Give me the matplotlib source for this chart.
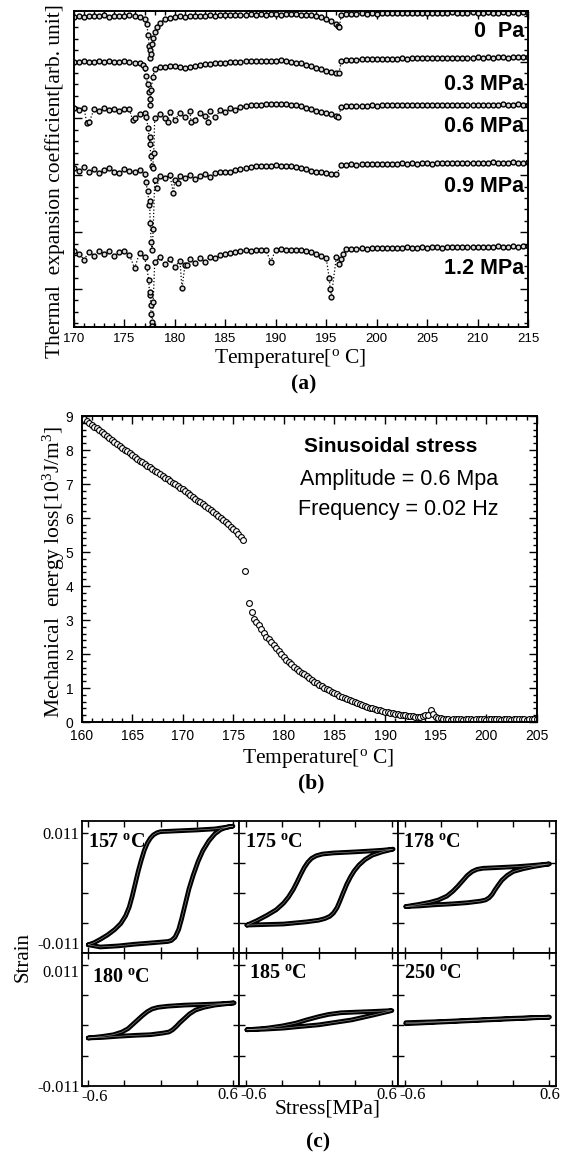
import numpy as np
import matplotlib
matplotlib.use("Agg")
import matplotlib.pyplot as plt
from matplotlib.ticker import MultipleLocator, FixedLocator, NullFormatter

plt.rcParams['mathtext.fontset'] = 'custom'
plt.rcParams['mathtext.rm'] = 'Liberation Serif'
plt.rcParams['mathtext.it'] = 'Liberation Serif:italic'
plt.rcParams['mathtext.bf'] = 'Liberation Serif:bold'
plt.rcParams['axes.unicode_minus'] = False

SERIF = 'Liberation Serif'
SANS = 'Liberation Sans'

# ---------------- (a) thermal expansion coefficient (arb. unit, curves offset) ----------------
temp_a = [170.0, 170.5, 171.0, 171.5, 172.0, 172.5, 173.0, 173.5, 174.0, 174.5,
          175.0, 175.5, 176.0, 176.5, 177.0, 177.5, 178.0, 178.5, 179.0, 179.5,
          180.0, 180.5, 181.0, 181.5, 182.0, 182.5, 183.0, 183.5, 184.0, 184.5,
          185.0, 185.5, 186.0, 186.5, 187.0, 187.5, 188.0, 188.5, 189.0, 189.5,
          190.0, 190.5, 191.0, 191.5, 192.0, 192.5, 193.0, 193.5, 194.0, 194.5,
          195.0, 195.5, 196.0, 196.5, 197.0, 197.5, 198.0, 198.5, 199.0, 199.5,
          200.0, 200.5, 201.0, 201.5, 202.0, 202.5, 203.0, 203.5, 204.0, 204.5,
          205.0, 205.5, 206.0, 206.5, 207.0, 207.5, 208.0, 208.5, 209.0, 209.5,
          210.0, 210.5, 211.0, 211.5, 212.0, 212.5, 213.0, 213.5, 214.0, 214.5,
          215.0]
stress_labels = ['0  Pa', '0.3 MPa', '0.6 MPa', '0.9 MPa', '1.2 MPa']

alpha_0 = [98.2, 98.4, 98.1, 98.5, 98.3, 98.4, 98.6, 98.2, 98.5, 98.4, 98.3, 98.6, 98.4, 98.2,
           97.6, 87.6, 93.3, 96.2, 97.4, 97.9,
           98.1, 98.3, 98.2, 98.4, 98.3, 98.5, 98.4, 98.6, 98.5, 98.6, 98.7, 98.6, 98.8, 98.7,
           98.8, 98.9, 98.7, 98.9, 98.8, 98.9, 99.0, 98.8, 98.9, 99.0, 98.9, 98.7, 98.8, 98.6, 98.4,
           98.0, 97.4, 96.8, 95.9, 98.8,
           99.1, 99.2, 99.1, 99.3, 99.2, 99.3, 99.2, 99.4, 99.3, 99.3, 99.4, 99.3, 99.4, 99.5,
           99.4, 99.4, 99.5, 99.4, 99.5, 99.5, 99.4, 99.6, 99.5, 99.5, 99.4, 99.6, 99.5, 99.5,
           99.6, 99.5, 99.5, 99.6, 99.5, 99.6, 99.5, 99.6, 99.5]
alpha_03 = [84.0, 83.8, 84.1, 83.9, 84.0, 84.2, 83.9, 84.1, 84.0, 83.8, 84.1, 84.0, 83.7, 83.5,
            82.0, 72.0, 81.5, 82.3,
            82.4, 82.6, 82.5, 82.2, 82.0, 82.4, 82.7, 82.9, 83.1, 83.2, 83.4, 83.5, 83.7, 83.8,
            83.9, 84.0, 84.1, 84.2, 84.2, 84.3, 84.3, 84.2, 84.3, 84.4, 84.2, 84.0, 83.7, 83.4,
            83.0, 82.5, 82.0,
            81.5, 81.0, 80.8, 80.5, 84.2,
            84.5, 84.6, 84.6, 84.7, 84.7, 84.8, 84.7, 84.8, 84.9, 84.8, 84.9, 85.0, 84.9, 85.0,
            85.0, 85.1, 85.0, 85.1, 85.1, 85.0, 85.2, 85.1, 85.2, 85.1, 85.2, 85.2, 85.3, 85.2,
            85.3, 85.2, 85.3, 85.3, 85.2, 85.3, 85.3, 85.4, 85.3]
alpha_06 = [69.2, 68.6, 69.3, 64.8, 69.0, 68.4, 69.2, 68.8, 69.1, 68.5, 69.0, 68.9, 66.0, 67.5,
            67.8, 60.0, 66.0, 67.5,
            66.2, 68.0, 65.5, 67.8, 66.4, 68.2, 65.4, 67.6, 66.8, 68.5, 66.3, 68.6, 68.0, 69.2,
            68.8, 69.6, 69.9, 70.2, 70.4, 70.3, 70.6, 70.5, 70.7, 70.6, 70.5, 70.4, 70.2, 69.8,
            69.4, 69.0, 68.5,
            68.0, 67.6, 67.3, 66.8, 69.6,
            69.8, 69.9, 69.9, 70.0, 70.0, 70.1, 70.0, 70.1, 70.1, 70.2, 70.1, 70.2, 70.2, 70.1,
            70.2, 70.3, 70.2, 70.3, 70.2, 70.3, 70.3, 70.4, 70.3, 70.3, 70.4, 70.3, 70.4, 70.4,
            70.3, 70.4, 70.4, 70.5, 70.4, 70.4, 70.5, 70.4, 70.4]
alpha_09 = [50.2, 49.4, 50.5, 49.0, 50.1, 48.8, 49.8, 50.4, 49.2, 48.6, 50.0, 49.5, 48.9, 49.6,
            48.5, 40.0, 46.5, 47.8,
            47.0, 48.2, 46.6, 47.9, 47.2, 48.0, 46.8, 47.9, 48.3, 47.5, 48.6, 48.9, 49.2, 49.0,
            49.6, 50.0, 50.4, 50.6, 50.9, 51.0, 51.1, 51.0, 51.2, 51.1, 51.0, 50.8, 50.6, 50.3,
            49.9, 49.5, 49.2,
            48.9, 48.6, 48.4, 48.3, 51.2,
            51.4, 51.5, 51.4, 51.6, 51.5, 51.6, 51.7, 51.5, 51.6, 51.7, 51.6, 51.8, 51.7, 51.8,
            51.6, 51.8, 51.9, 51.7, 51.8, 51.9, 51.8, 51.9, 52.0, 51.8, 51.9, 52.0, 51.9, 52.0,
            51.9, 52.1, 52.0, 51.9, 52.0, 52.1, 52.0, 52.0, 52.1]
alpha_12 = [24.0, 23.2, 21.3, 23.8, 22.6, 24.1, 23.0, 23.9, 22.5, 23.7, 24.0, 22.8, 18.6, 23.4,
            22.0, 10.0, 20.5, 22.0,
            19.8, 21.5, 18.9, 21.0, 19.6, 21.6, 20.2, 21.8, 20.6, 22.3, 21.9, 22.8, 23.0, 23.5,
            23.8, 24.1, 24.3, 24.2, 24.4, 24.5, 24.4, 20.7, 24.5, 24.6, 24.5, 24.4, 24.5, 24.3,
            24.0, 23.6, 23.0,
            22.5, 21.8, 9.6, 22.0, 21.5,
            24.6, 24.8, 24.7, 24.9, 24.8, 25.0, 24.9, 25.0, 24.9, 25.1, 25.0, 25.1, 25.2, 25.0,
            25.1, 25.2, 25.1, 25.3, 25.2, 25.1, 25.3, 25.2, 25.3, 25.4, 25.2, 25.3, 25.4, 25.3,
            25.4, 25.3, 25.5, 25.4, 25.3, 25.5, 25.4, 25.5, 25.5]

# extra readings around the transition dips (temperature, value)
dip_0 = [(177.2, 96.0), (177.35, 92.5), (177.45, 89.0), (177.55, 85.0), (177.65, 86.5),
         (177.75, 89.5), (177.85, 91.5), (178.2, 95.0), (196.2, 95.2), (196.3, 95.0)]
dip_03 = [(176.8, 83.0), (177.1, 79.5), (177.3, 77.0), (177.45, 74.5), (177.55, 70.2),
          (177.65, 75.0), (177.8, 79.0), (196.25, 80.3)]
dip_06 = [(171.25, 64.7), (175.8, 65.5), (177.15, 66.5), (177.35, 63.0), (177.5, 58.0),
          (177.6, 54.0), (177.7, 51.0), (177.8, 50.4), (177.9, 55.0), (179.3, 64.8),
          (181.6, 65.0), (183.3, 64.9), (196.2, 66.5)]
dip_09 = [(177.1, 46.0), (177.3, 43.0), (177.45, 38.5), (177.55, 33.0), (177.65, 27.0),
          (177.75, 24.4), (177.85, 31.0), (178.2, 44.0), (179.85, 42.4), (180.3, 45.5)]
dip_12 = [(177.2, 19.0), (177.4, 15.0), (177.55, 11.0), (177.6, 7.0), (177.65, 4.0),
          (177.7, 1.5), (177.75, 0.3), (177.85, 8.0), (180.7, 12.2), (181.2, 19.5),
          (195.3, 15.4), (195.4, 12.0), (196.3, 20.0), (196.7, 23.0)]

curves_a = [alpha_0, alpha_03, alpha_06, alpha_09, alpha_12]
dips_a = [dip_0, dip_03, dip_06, dip_09, dip_12]

# ---------------- (b) mechanical energy loss [10^3 J/m^3] ----------------
loss_pts = [
    (160.00, 8.95), (160.25, 8.90), (160.50, 8.85), (160.75, 8.80), (161.00, 8.75),
    (161.25, 8.69), (161.50, 8.64), (161.75, 8.58), (162.00, 8.52), (162.25, 8.46),
    (162.50, 8.40), (162.75, 8.34), (163.00, 8.28), (163.25, 8.23), (163.50, 8.17),
    (163.75, 8.12), (164.00, 8.06), (164.25, 8.01), (164.50, 7.96), (164.75, 7.90),
    (165.00, 7.85), (165.25, 7.80), (165.50, 7.74), (165.75, 7.69), (166.00, 7.64),
    (166.25, 7.59), (166.50, 7.54), (166.75, 7.49), (167.00, 7.44), (167.25, 7.39),
    (167.50, 7.34), (167.75, 7.29), (168.00, 7.24), (168.25, 7.19), (168.50, 7.14),
    (168.75, 7.09), (169.00, 7.04), (169.25, 6.99), (169.50, 6.94), (169.75, 6.89),
    (170.00, 6.84), (170.25, 6.78), (170.50, 6.73), (170.75, 6.67), (171.00, 6.62),
    (171.25, 6.57), (171.50, 6.51), (171.75, 6.46), (172.00, 6.41), (172.25, 6.35),
    (172.50, 6.29), (172.75, 6.24), (173.00, 6.18), (173.25, 6.12), (173.50, 6.07),
    (173.75, 6.01), (174.00, 5.95), (174.25, 5.89), (174.50, 5.82), (174.75, 5.75),
    (175.00, 5.68), (175.25, 5.61), (175.50, 5.53), (175.75, 5.45), (176.00, 5.35),
    (176.20, 4.45), (176.60, 3.50), (176.80, 3.24), (177.05, 3.02),
    (177.25, 2.94), (177.50, 2.84), (177.75, 2.73), (178.00, 2.62), (178.25, 2.51),
    (178.50, 2.43), (178.75, 2.35), (179.00, 2.26), (179.25, 2.17), (179.50, 2.08),
    (179.75, 1.99), (180.00, 1.90), (180.25, 1.83), (180.50, 1.76), (180.75, 1.70),
    (181.00, 1.63), (181.25, 1.57), (181.50, 1.51), (181.75, 1.45), (182.00, 1.40),
    (182.25, 1.35), (182.50, 1.29), (182.75, 1.24), (183.00, 1.19), (183.25, 1.14),
    (183.50, 1.09), (183.75, 1.05), (184.00, 1.01), (184.25, 0.97), (184.50, 0.93),
    (184.75, 0.89), (185.00, 0.85), (185.25, 0.81), (185.50, 0.77), (185.75, 0.73),
    (186.00, 0.70), (186.25, 0.67), (186.50, 0.64), (186.75, 0.61), (187.00, 0.58),
    (187.25, 0.55), (187.50, 0.52), (187.75, 0.49), (188.00, 0.46), (188.25, 0.44),
    (188.50, 0.42), (188.75, 0.40), (189.00, 0.38), (189.25, 0.36), (189.50, 0.34),
    (189.75, 0.32), (190.00, 0.30), (190.25, 0.29), (190.50, 0.27), (190.75, 0.26),
    (191.00, 0.25), (191.25, 0.24), (191.50, 0.22), (191.75, 0.21), (192.00, 0.20),
    (192.25, 0.19), (192.50, 0.18), (192.75, 0.17), (193.00, 0.16), (193.25, 0.15),
    (193.50, 0.16), (193.75, 0.19), (194.00, 0.22), (194.25, 0.20), (194.50, 0.36),
    (194.75, 0.24), (195.00, 0.16), (195.25, 0.13), (195.50, 0.11), (195.75, 0.10),
    (196.00, 0.09), (196.25, 0.08), (196.50, 0.07), (196.75, 0.08), (197.00, 0.08),
    (197.25, 0.09), (197.50, 0.08), (197.75, 0.07), (198.00, 0.08), (198.25, 0.08),
    (198.50, 0.08), (198.75, 0.07), (199.00, 0.08), (199.25, 0.09), (199.50, 0.08),
    (199.75, 0.08), (200.00, 0.07), (200.25, 0.08), (200.50, 0.08), (200.75, 0.08),
    (201.00, 0.09), (201.25, 0.08), (201.50, 0.07), (201.75, 0.08), (202.00, 0.08),
    (202.25, 0.08), (202.50, 0.07), (202.75, 0.08), (203.00, 0.08), (203.25, 0.09),
    (203.50, 0.08), (203.75, 0.08), (204.00, 0.07), (204.25, 0.08), (204.50, 0.08),
    (204.75, 0.08), (205.00, 0.08)]

# ---------------- (c) strain-stress hysteresis loops (stress MPa, strain) ----------------
loop_temps = ['157', '175', '178', '180', '185', '250']
loop_157 = [(-0.60, -0.0095), (-0.50, -0.0099), (-0.35, -0.0097), (-0.22, -0.0094), (-0.05, -0.0091),
            (0.06, -0.0089), (0.09, -0.0087), (0.12, -0.0081), (0.15, -0.0067), (0.175, -0.0047),
            (0.205, -0.0020), (0.235, 0.0007), (0.27, 0.0032), (0.31, 0.0057), (0.35, 0.0077),
            (0.40, 0.0095), (0.45, 0.0108), (0.50, 0.0116), (0.55, 0.0120), (0.60, 0.0122),
            (0.45, 0.0117), (0.30, 0.0115), (0.10, 0.0113), (0.0, 0.0112), (-0.03, 0.0110),
            (-0.06, 0.0106), (-0.085, 0.0100), (-0.11, 0.0091), (-0.135, 0.0078), (-0.16, 0.0060),
            (-0.185, 0.0040), (-0.21, 0.0017), (-0.235, -0.0006), (-0.26, -0.0026), (-0.29, -0.0042),
            (-0.33, -0.0056), (-0.38, -0.0067), (-0.44, -0.0077), (-0.50, -0.0085), (-0.55, -0.0091),
            (-0.60, -0.0095)]
loop_175 = [(-0.59, -0.0059), (-0.45, -0.0058), (-0.29, -0.0057), (-0.10, -0.0053), (0.0, -0.0050),
            (0.05, -0.0047), (0.09, -0.0043), (0.12, -0.0037), (0.15, -0.0027), (0.175, -0.0014),
            (0.20, 0.0000), (0.23, 0.0016), (0.26, 0.0029), (0.29, 0.0040), (0.33, 0.0051),
            (0.38, 0.0061), (0.44, 0.0069), (0.52, 0.0075), (0.61, 0.0080), (0.52, 0.0078),
            (0.45, 0.0077), (0.30, 0.0075), (0.12, 0.0073), (0.03, 0.0071), (-0.02, 0.0068),
            (-0.06, 0.0063), (-0.09, 0.0056), (-0.12, 0.0046), (-0.15, 0.0033), (-0.18, 0.0019),
            (-0.21, 0.0006), (-0.25, -0.0008), (-0.29, -0.0019), (-0.35, -0.0031), (-0.425, -0.0041),
            (-0.51, -0.0051), (-0.59, -0.0059)]
loop_178 = [(-0.59, -0.0025), (-0.48, -0.0024), (-0.36, -0.0022), (-0.20, -0.0020), (-0.08, -0.0018),
            (0.03, -0.0015), (0.07, -0.0013), (0.10, -0.0009), (0.125, -0.0003), (0.15, 0.0006),
            (0.175, 0.0014), (0.205, 0.0023), (0.25, 0.0032), (0.30, 0.0039), (0.38, 0.0044),
            (0.465, 0.0048), (0.60, 0.0053), (0.45, 0.0050), (0.33, 0.0048), (0.15, 0.0046),
            (0.05, 0.0045), (0.0, 0.0043), (-0.04, 0.0039), (-0.08, 0.0032), (-0.12, 0.0022),
            (-0.16, 0.0012), (-0.20, 0.0003), (-0.25, -0.0006), (-0.32, -0.0013), (-0.386, -0.0017),
            (-0.48, -0.0021), (-0.59, -0.0025)]
loop_180 = [(-0.60, -0.0023), (-0.48, -0.0022), (-0.36, -0.0020), (-0.20, -0.0018), (-0.085, -0.0017),
            (0.02, -0.0014), (0.07, -0.0012), (0.10, -0.0008), (0.13, -0.0002), (0.16, 0.0005),
            (0.20, 0.0013), (0.24, 0.0021), (0.29, 0.0028), (0.36, 0.0033), (0.45, 0.0037),
            (0.61, 0.0041), (0.45, 0.0039), (0.33, 0.0038), (0.20, 0.0037), (0.06, 0.0035),
            (-0.02, 0.0033), (-0.07, 0.0030), (-0.11, 0.0025), (-0.15, 0.0018), (-0.19, 0.0010),
            (-0.23, 0.0002), (-0.27, -0.0006), (-0.32, -0.0012), (-0.39, -0.0017), (-0.48, -0.0020),
            (-0.60, -0.0023)]
loop_185 = [(-0.59, -0.0008), (-0.45, -0.0007), (-0.29, -0.0005), (-0.15, -0.0002), (0.0, 0.0001),
            (0.15, 0.0006), (0.27, 0.0010), (0.37, 0.0015), (0.45, 0.0019), (0.60, 0.0027),
            (0.50, 0.0026), (0.40, 0.0025), (0.28, 0.0024), (0.18, 0.0023), (0.08, 0.0020),
            (0.0, 0.0016), (-0.10, 0.0010), (-0.19, 0.0004), (-0.30, -0.0001), (-0.425, -0.0005),
            (-0.59, -0.0008)]
loop_250 = [(-0.59, 0.0003), (-0.30, 0.0006), (0.0, 0.0009), (0.30, 0.0012), (0.60, 0.0015),
            (0.30, 0.0013), (0.0, 0.0010), (-0.30, 0.0007), (-0.59, 0.0005)]
loops = [loop_157, loop_175, loop_178, loop_180, loop_185, loop_250]

# ---------------- figure layout (pixel boxes) ----------------
W, H = 561, 1156
fig = plt.figure(figsize=(W / 100, H / 100), dpi=100)


def box(l, t, r, b):
    return [l / W, 1 - b / H, (r - l) / W, (b - t) / H]


def ftext(x, y, s, **kw):
    fig.text(x / W, 1 - y / H, s, **kw)


def frame(ax, lw=1.4):
    for sp in ax.spines.values():
        sp.set_linewidth(lw)
    ax.tick_params(which='both', direction='in', top=True, right=True, width=1.0)


# ---- panel (a) ----
ax = fig.add_axes(box(74, 11, 528, 327))
for vals, extra in zip(curves_a, dips_a):
    t = np.array(list(temp_a) + [p[0] for p in extra])
    v = np.array(list(vals) + [p[1] for p in extra])
    o = np.argsort(t)
    ax.plot(t[o], v[o], ':', color='k', lw=0.9, marker='o', ms=3.5,
            mfc='0.85', mec='k', mew=1.0)
ax.set_xlim(170, 215)
ax.set_ylim(0, 100)
frame(ax)
ax.xaxis.set_major_locator(MultipleLocator(5))
ax.xaxis.set_minor_locator(MultipleLocator(1))
ax.yaxis.set_major_locator(FixedLocator([12, 30, 48, 66, 84]))
ax.yaxis.set_minor_locator(FixedLocator(np.arange(1.2, 100, 3.6)))
ax.yaxis.set_major_formatter(NullFormatter())
ax.tick_params(which='major', length=6)
ax.tick_params(which='minor', length=3)
ax.tick_params(axis='x', labelsize=9.5, pad=4)
for lab in ax.get_xticklabels():
    lab.set_fontfamily(SANS)
label_y = [31.7, 84, 127, 187, 268]
for s, y in zip(stress_labels, label_y):
    ftext(524, y, s, ha='right', va='center', fontsize=15.5, fontweight='bold', family=SANS)
ftext(55, 181, 'Thermal  expansion coefficient[arb. unit]', rotation=90,
      ha='center', va='center', fontsize=15.5, family=SERIF)
ftext(290, 359, r'Temperature[$^{\rm o}$ C]', ha='center', va='center', fontsize=15.5, family=SERIF)
ftext(304, 384, '(a)', ha='center', va='center', fontsize=15.5, fontweight='bold', family=SERIF)

# ---- panel (b) ----
ax = fig.add_axes(box(81.6, 416, 536.7, 722))
lt, lv = zip(*loss_pts)
ax.plot(lt, lv, 'o', ms=4.2, mfc='white', mec='k', mew=0.8)
ax.set_xlim(160, 205)
ax.set_ylim(0, 9)
frame(ax)
ax.xaxis.set_major_locator(MultipleLocator(5))
ax.xaxis.set_minor_locator(MultipleLocator(1))
ax.yaxis.set_major_locator(MultipleLocator(1))
ax.yaxis.set_minor_locator(MultipleLocator(0.2))
ax.tick_params(which='major', length=6)
ax.tick_params(which='minor', length=3)
ax.tick_params(axis='x', labelsize=10, pad=5)
ax.tick_params(axis='y', labelsize=10, pad=6)
for lab in ax.get_xticklabels() + ax.get_yticklabels():
    lab.set_fontfamily(SANS)
ftext(304, 447, 'Sinusoidal stress', ha='left', va='center', fontsize=15,
      fontweight='bold', family=SANS)
ftext(300, 479, 'Amplitude = 0.6 Mpa', ha='left', va='center', fontsize=15.5, family=SANS)
ftext(298, 510, 'Frequency = 0.02 Hz', ha='left', va='center', fontsize=15.5, family=SANS)
ftext(54, 572, r'Mechanical  energy loss[10$^3$J/m$^3$]', rotation=90,
      ha='center', va='center', fontsize=15.5, family=SERIF)
ftext(318, 758, r'Temperature[$^{\rm o}$ C]', ha='center', va='center', fontsize=15.5, family=SERIF)
ftext(311, 783, '(b)', ha='center', va='center', fontsize=15.5, fontweight='bold', family=SERIF)

# ---- panel (c) ----
col_x = [81.6, 239, 398, 555.5]
row_y = [820.7, 953, 1085.7]
label_pos = [(88, 842), (245, 842), (403, 842), (92, 977), (249, 973), (404, 973)]
for k, (pts, name) in enumerate(zip(loops, loop_temps)):
    r, c = divmod(k, 3)
    ax = fig.add_axes(box(col_x[c], row_y[r], col_x[c + 1], row_y[r + 1]))
    sx, sy = zip(*pts)
    ax.plot(sx, sy, '-', color='k', lw=3.4, solid_joinstyle='round', solid_capstyle='round')
    ax.plot(sx, sy, '-', color='0.6', lw=0.4)
    ax.set_xlim(-0.655, 0.65)
    ax.set_ylim(-0.011, 0.0132)
    frame(ax, lw=1.3)
    ax.set_xticks([-0.6, -0.3, 0, 0.3, 0.6])
    ax.set_yticks([-0.011, -0.0055, 0, 0.0055, 0.011])
    ax.tick_params(which='major', length=4)
    ax.set_xticklabels([])
    if c == 0:
        ax.set_yticklabels(['-0.011', '', '', '', '0.011'], fontsize=12, family=SERIF)
        ax.tick_params(axis='y', pad=1.5)
        labs = ax.get_yticklabels()
        if r == 0:
            labs[0].set_va('bottom')
        else:
            labs[4].set_va('top')
    else:
        ax.set_yticklabels([])
    lx, ly = label_pos[k]
    ftext(lx, ly, name + r' $^{\mathbf{o}}$C', ha='left', va='center', fontsize=14.5,
          fontweight='bold', family=SERIF)

# stress tick labels under the bottom row, butted against the column borders
xlab_kw = dict(va='center', fontsize=12, family=SERIF)
ftext(81, 1097, '-0.6', ha='left', **xlab_kw)
ftext(238, 1095, '0.6', ha='right', **xlab_kw)
ftext(240, 1095, '-0.6', ha='left', **xlab_kw)
ftext(397, 1095, '0.6', ha='right', **xlab_kw)
ftext(399, 1095, '-0.6', ha='left', **xlab_kw)
ftext(550, 1095, '0.6', ha='center', **xlab_kw)

ftext(23, 957, 'Strain', rotation=90, ha='center', va='center', fontsize=15, family=SERIF)
ftext(328, 1109, 'Stress[MPa]', ha='center', va='center', fontsize=15.5, family=SERIF)
ftext(318, 1142, '(c)', ha='center', va='center', fontsize=15.5, fontweight='bold', family=SERIF)

fig.savefig('out.png', dpi=100)
